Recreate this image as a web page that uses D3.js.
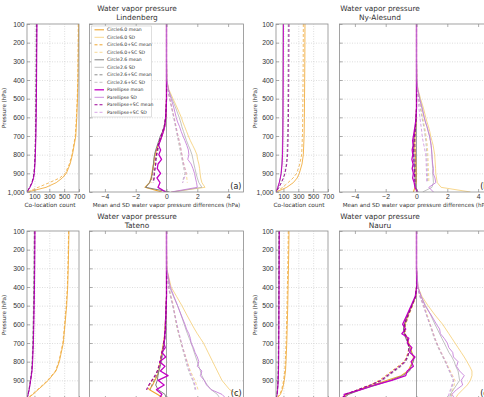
<!DOCTYPE html>
<html>
<head>
<meta charset="utf-8">
<script src="https://cdn.jsdelivr.net/npm/d3@7"></script>
<style>
  body { margin: 0; background: #fff; }
  svg { font-family: 'DejaVu Sans', sans-serif; display: block; }
  .tick text { fill: #333; font-size: 6.8px; }
  .tick line { stroke: #777; stroke-width: 0.6; }
  .grid line { stroke: #c8c8c8; stroke-width: 0.6; stroke-dasharray: 1,1.5; }
  .grid .domain, .axis .domain { display: none; }
</style>
</head>
<body>
<div id="chart"></div>
<script>
// pressure levels (hPa) of the difference profiles and of the count profiles
const diffLevels = [100, 200, 300, 400, 450, 500, 550, 600, 625, 650, 675, 700, 725, 750, 775, 800, 825, 850, 875, 900, 925, 950, 975, 1000]
const countLevels = [100, 200, 300, 400, 500, 600, 700, 800, 850, 900, 925, 950, 975, 1000]

const yTicks = [100, 200, 300, 400, 500, 600, 700, 800, 900, 1000]
const countTicks = [100, 300, 500, 700]
const diffTicks = [-4, -2, 0, 2, 4]

const stations = ['Lindenberg', 'Ny-Alesund', 'Tateno', 'Nauru']
const panelLabels = ['(a)', '(b)', '(c)', '(d)']
const seriesNames = ['Circle6.0 mean', 'Circle6.0 SD', 'Circle6.0+SC mean', 'Circle6.0+SC SD',
  'Circle2.6 mean', 'Circle2.6 SD', 'Circle2.6+SC mean', 'Circle2.6+SC SD',
  'Parellipse mean', 'Parellipse SD', 'Parellipse+SC mean', 'Parellipse+SC SD']

// Lindenberg
const lindCntC60 = [695, 693, 690, 687, 680, 670, 657, 612, 580, 530, 475, 393, 256, 10]
const lindCntC60sc = [690, 688, 686, 683, 676, 665, 650, 605, 570, 515, 440, 300, 150, 5]
const lindCntC26 = [128, 127, 126, 124, 122, 120, 117, 111, 106, 97, 86, 68, 38, 0]
const lindCntC26sc = [124, 123, 122, 120, 118, 116, 113, 107, 102, 93, 82, 64, 35, 0]
const lindCntPar = [135, 133, 131, 129, 127, 124, 120, 113, 107, 98, 88, 70, 40, 0]
const lindCntParsc = [131, 129, 127, 125, 123, 120, 116, 109, 103, 94, 84, 66, 36, 0]

const lindC60Mean = [0, 0, 0, 0, 0, 0, -0.02, -0.05, -0.08, -0.12, -0.2, -0.3, -0.42, -0.55, -0.65, -0.75, -0.8, -0.85, -0.9, -0.95, -1.0, -1.1, -1.4, -0.3]
const lindC60Sd = [0, 0, 0, 0.02, 0.15, 0.42, 0.7, 0.96, 1.06, 1.18, 1.3, 1.42, 1.55, 1.7, 1.85, 1.97, 2.02, 2.1, 2.15, 2.18, 2.22, 2.3, 2.5, 0.3]
const lindC60scMean = [0, 0, 0, 0, 0, 0, -0.02, -0.05, -0.1, -0.15, -0.25, -0.35, -0.45, -0.55, -0.6, -0.7, -0.75, -0.8, -0.85, -0.9, -0.95, -1.0, null, null]
const lindC60scSd = [0, 0, 0, 0.01, 0.1, 0.22, 0.36, 0.5, 0.56, 0.62, 0.68, 0.75, 0.82, 0.88, 0.94, 1.0, 1.06, 1.12, 1.2, 1.28, 1.32, 1.35, null, null]
const lindC26Mean = [0, 0, 0, 0, 0, 0, -0.02, -0.06, -0.1, -0.16, -0.25, -0.4, -0.5, -0.6, -0.7, -0.78, -0.82, -0.84, -0.88, -0.92, -0.98, -1.1, -1.35, 0.2]
const lindC26Sd = [0, 0, 0, 0.02, 0.12, 0.35, 0.6, 0.82, 0.92, 1.0, 1.1, 1.2, 1.3, 1.42, 1.55, 1.65, 1.72, 1.78, 1.85, 1.92, 2.0, 2.1, 2.3, 0.4]
const lindC26scMean = [0, 0, 0, 0, 0, 0, -0.02, -0.05, -0.08, -0.12, -0.2, -0.3, -0.4, -0.5, -0.55, -0.62, -0.66, -0.7, -0.74, -0.78, -0.82, -0.9, null, null]
const lindC26scSd = [0, 0, 0, 0.01, 0.09, 0.2, 0.33, 0.46, 0.52, 0.58, 0.64, 0.7, 0.76, 0.82, 0.88, 0.94, 1.0, 1.06, 1.12, 1.2, 1.1, 1.05, null, null]
const lindParMean = [0, 0, 0, 0, 0, 0, -0.02, -0.05, -0.08, -0.12, -0.2, -0.3, -0.4, -0.52, -0.38, -0.5, -0.32, -0.55, -0.6, -0.38, -0.62, -0.42, -0.55, -0.05]
const lindParSd = [0, 0, 0, 0.02, 0.12, 0.3, 0.48, 0.63, 0.72, 0.85, 0.95, 1.07, 1.2, 1.32, 1.42, 1.45, 1.38, 1.6, 1.72, 1.82, 1.88, 1.95, 2.0, 0.3]
const lindParscMean = [0, 0, 0, 0, 0, 0, -0.02, -0.05, -0.1, -0.15, -0.25, -0.35, -0.45, -0.55, -0.6, -0.65, -0.7, -0.7, -0.75, -0.8, -0.8, -0.85, null, null]
const lindParscSd = [0, 0, 0, 0.01, 0.08, 0.2, 0.35, 0.48, 0.55, 0.62, 0.68, 0.75, 0.82, 0.9, 0.95, 1.0, 1.05, 1.12, 1.2, 1.28, 1.15, 1.05, null, null]

// Ny-Alesund
const nyCntC60 = [390, 389, 388, 386, 384, 382, 378, 368, 350, 314, 285, 233, 144, 5]
const nyCntC60sc = [368, 367, 366, 364, 362, 360, 356, 345, 320, 278, 230, 162, 90, 0]
const nyCntC26 = [95, 94, 93, 92, 91, 90, 88, 84, 78, 68, 58, 45, 25, 0]
const nyCntC26sc = [165, 164, 163, 162, 160, 158, 155, 148, 138, 118, 98, 72, 40, 0]
const nyCntPar = [100, 99, 98, 97, 96, 95, 93, 88, 82, 70, 58, 44, 24, 0]
const nyCntParsc = [175, 174, 173, 172, 170, 168, 164, 156, 145, 122, 100, 72, 40, 0]

const nyC60Mean = [0, 0, 0, 0, 0, 0, 0, -0.02, -0.03, -0.05, -0.08, -0.1, -0.1, -0.12, -0.1, -0.08, -0.06, -0.05, -0.05, -0.04, -0.05, -0.03, -0.1, -0.2]
const nyC60Sd = [0, 0, 0, 0.02, 0.1, 0.26, 0.45, 0.6, 0.68, 0.78, 0.86, 0.92, 1.0, 1.08, 1.13, 1.18, 1.2, 1.22, 1.24, 1.25, 1.3, 1.35, 1.6, 3.5]
const nyC60scMean = [0, 0, 0, 0, 0, 0, 0, -0.02, -0.04, -0.06, -0.08, -0.1, -0.12, -0.1, -0.08, -0.06, -0.05, -0.05, -0.04, -0.03, -0.02, 0, null, null]
const nyC60scSd = [0, 0, 0, 0.01, 0.06, 0.16, 0.28, 0.4, 0.46, 0.52, 0.58, 0.62, 0.66, 0.7, 0.72, 0.74, 0.75, 0.76, 0.77, 0.78, 0.8, 0.8, null, null]
const nyC26Mean = [0, 0, 0, 0, 0, 0, 0, -0.03, -0.05, -0.08, -0.12, -0.15, -0.18, -0.2, -0.2, -0.18, -0.16, -0.15, -0.14, -0.13, -0.1, -0.08, -0.05, 0.1]
const nyC26Sd = [0, 0, 0, 0.02, 0.08, 0.22, 0.38, 0.5, 0.58, 0.68, 0.76, 0.84, 0.9, 0.95, 0.98, 1.0, 1.02, 1.03, 1.05, 1.05, 1.08, 1.1, 1.0, 0.4]
const nyC26scMean = [0, 0, 0, 0, 0, 0, 0, -0.02, -0.03, -0.05, -0.07, -0.09, -0.1, -0.1, -0.1, -0.09, -0.08, -0.07, -0.06, -0.05, -0.04, -0.03, null, null]
const nyC26scSd = [0, 0, 0, 0.01, 0.05, 0.14, 0.25, 0.35, 0.41, 0.47, 0.52, 0.56, 0.6, 0.63, 0.65, 0.67, 0.68, 0.69, 0.7, 0.7, 0.72, 0.72, null, null]
const nyParMean = [0, 0, 0, 0, 0, 0, 0, -0.03, -0.06, -0.1, -0.15, -0.2, -0.25, -0.22, -0.28, -0.24, -0.3, -0.22, -0.28, -0.2, -0.25, -0.15, -0.1, 0.05]
const nyParSd = [0, 0, 0, 0.02, 0.08, 0.2, 0.35, 0.5, 0.58, 0.68, 0.76, 0.85, 0.9, 0.95, 0.98, 1.0, 1.02, 1.05, 1.1, 1.08, 1.2, 1.25, 0.8, 1.1]
const nyParscMean = [0, 0, 0, 0, 0, 0, 0, -0.02, -0.04, -0.07, -0.1, -0.13, -0.15, -0.17, -0.18, -0.18, -0.17, -0.16, -0.15, -0.13, -0.12, -0.1, null, null]
const nyParscSd = [0, 0, 0, 0.01, 0.04, 0.1, 0.16, 0.22, 0.26, 0.3, 0.34, 0.37, 0.42, 0.48, 0.54, 0.6, 0.62, 0.63, 0.64, 0.65, 0.66, 0.66, null, null]

// Tateno
const tatCntC60 = [565, 560, 555, 548, 534, 512, 489, 435, 390, 287, 220, 150, 80, 0]
const tatCntC60sc = [560, 555, 550, 543, 528, 506, 482, 428, 382, 278, 210, 140, 70, 0]
const tatCntC26 = [100, 98, 96, 93, 89, 85, 80, 71, 63, 47, 38, 28, 14, 0]
const tatCntC26sc = [98, 96, 94, 91, 87, 83, 78, 69, 61, 45, 36, 26, 13, 0]
const tatCntPar = [108, 106, 104, 101, 97, 92, 86, 76, 68, 50, 40, 30, 15, 0]
const tatCntParsc = [105, 103, 101, 98, 94, 89, 83, 73, 65, 48, 38, 28, 14, 0]

const tatC60Mean = [0, 0, 0, 0, 0, -0.02, -0.05, -0.08, -0.1, -0.12, -0.15, -0.2, -0.25, -0.3, -0.35, -0.4, -0.45, -0.5, -0.6, -0.75, -0.9, -1.1, -0.6, -0.1]
const tatC60Sd = [0, 0, 0.02, 0.3, 0.65, 1.0, 1.32, 1.65, 1.82, 2.0, 2.2, 2.4, 2.55, 2.7, 2.85, 3.0, 3.15, 3.3, 3.45, 3.6, 3.85, 4.1, 4.6, 4.8]
const tatC60scMean = [0, 0, 0, 0, 0, -0.02, -0.04, -0.06, -0.08, -0.1, -0.12, -0.15, -0.2, -0.3, -0.35, -0.4, -0.5, -0.6, -0.7, -0.9, -1.1, -1.2, null, null]
const tatC60scSd = [0, 0, 0.01, 0.15, 0.3, 0.45, 0.55, 0.65, 0.72, 0.8, 0.88, 0.95, 1.05, 1.15, 1.25, 1.35, 1.45, 1.55, 1.7, 1.85, 1.95, 2.05, null, null]
const tatC26Mean = [0, 0, 0, 0, 0, -0.02, -0.04, -0.06, -0.08, -0.1, -0.12, -0.15, -0.2, -0.25, -0.3, -0.35, -0.4, -0.5, -0.55, -0.6, -0.7, -0.55, -0.1, 0]
const tatC26Sd = [0, 0, 0.01, 0.2, 0.45, 0.72, 0.95, 1.15, 1.25, 1.36, 1.48, 1.6, 1.7, 1.8, 1.9, 2.0, 2.1, 2.2, 2.3, 2.45, 2.65, 2.9, 3.3, 3.5]
const tatC26scMean = [0, 0, 0, 0, 0, -0.02, -0.04, -0.06, -0.08, -0.1, -0.12, -0.15, -0.2, -0.25, -0.3, -0.35, -0.45, -0.55, -0.65, -0.8, -0.95, -1.05, null, null]
const tatC26scSd = [0, 0, 0.01, 0.12, 0.25, 0.4, 0.52, 0.64, 0.7, 0.78, 0.86, 0.94, 1.02, 1.1, 1.18, 1.26, 1.34, 1.44, 1.56, 1.7, 1.8, 1.85, null, null]
const tatParMean = [0, 0, 0, 0, 0, -0.02, -0.04, -0.08, -0.05, -0.12, -0.1, -0.18, -0.08, -0.3, -0.05, -0.45, -0.1, -0.4, 0.1, -0.55, -0.15, -0.65, -0.3, -0.5]
const tatParSd = [0, 0, 0.01, 0.25, 0.48, 0.72, 0.95, 1.2, 1.3, 1.45, 1.55, 1.6, 1.75, 1.85, 2.0, 2.1, 2.0, 2.3, 2.2, 2.45, 2.6, 2.9, 3.6, 3.9]
const tatParscMean = [0, 0, 0, 0, 0, -0.02, -0.04, -0.06, -0.08, -0.1, -0.14, -0.18, -0.22, -0.3, -0.36, -0.42, -0.5, -0.6, -0.75, -0.95, -1.15, -1.3, null, null]
const tatParscSd = [0, 0, 0.01, 0.14, 0.28, 0.42, 0.55, 0.68, 0.75, 0.82, 0.9, 0.98, 1.06, 1.15, 1.24, 1.32, 1.4, 1.5, 1.62, 1.75, 1.85, 1.9, null, null]

// Nauru
const nauCntC60 = [175, 172, 168, 163, 158, 152, 145, 135, 128, 112, 100, 85, 60, 0]
const nauCntC60sc = [165, 162, 158, 153, 148, 142, 135, 125, 118, 102, 90, 75, 52, 0]
const nauCntC26 = [40, 39, 38, 37, 36, 35, 34, 32, 30, 27, 24, 20, 13, 0]
const nauCntC26sc = [38, 37, 36, 35, 34, 33, 32, 30, 28, 25, 22, 18, 12, 0]
const nauCntPar = [45, 44, 43, 42, 41, 40, 38, 36, 34, 30, 27, 22, 15, 0]
const nauCntParsc = [43, 42, 41, 40, 39, 38, 36, 34, 32, 28, 25, 20, 14, 0]

const nauC60Mean = [0, 0, 0, 0, -0.05, -0.3, -0.55, -0.75, -0.8, -0.78, -0.6, -0.5, -0.4, -0.3, -0.2, -0.25, -0.4, -0.55, -1.0, -1.9, -2.8, -3.7, -4.5, -4.9]
const nauC60Sd = [0, 0, 0, 0.1, 0.35, 0.75, 1.2, 1.7, 1.9, 2.1, 2.3, 2.5, 2.7, 2.9, 3.1, 3.28, 3.45, 3.6, 3.6, 3.5, 3.3, 3.0, 2.7, 2.5]
const nauC60scMean = [0, 0, 0, 0, -0.05, -0.25, -0.5, -0.7, -0.75, -0.72, -0.6, -0.55, -0.5, -0.55, -0.65, -0.8, -1.2, -1.6, -2.0, -2.4, -3.0, -3.8, -4.6, -4.9]
const nauC60scSd = [0, 0, 0, 0.05, 0.25, 0.5, 0.7, 0.9, 1.0, 1.1, 1.2, 1.32, 1.45, 1.6, 1.75, 1.9, 2.05, 2.2, 2.35, 2.5, 2.45, 2.35, 2.3, 2.2]
const nauC26Mean = [0, 0, 0, 0, -0.05, -0.32, -0.6, -0.8, -0.85, -0.8, -0.7, -0.55, -0.45, -0.35, -0.15, -0.2, -0.35, -0.45, -0.9, -1.7, -2.6, -3.6, -4.4, -4.8]
const nauC26Sd = [0, 0, 0, 0.08, 0.3, 0.6, 0.92, 1.2, 1.35, 1.5, 1.65, 1.8, 1.95, 2.1, 2.3, 2.45, 2.55, 2.7, 2.75, 2.8, 2.6, 2.4, 2.2, 2.3]
const nauC26scMean = [0, 0, 0, 0, -0.05, -0.28, -0.52, -0.72, -0.78, -0.75, -0.62, -0.55, -0.5, -0.5, -0.55, -0.7, -1.0, -1.4, -1.8, -2.2, -2.9, -3.7, -4.5, -4.85]
const nauC26scSd = [0, 0, 0, 0.05, 0.22, 0.45, 0.65, 0.85, 0.95, 1.05, 1.15, 1.28, 1.4, 1.55, 1.7, 1.85, 2.0, 2.12, 2.25, 2.4, 2.35, 2.25, 2.2, 2.1]
const nauParMean = [0, 0, 0, 0.02, -0.08, -0.35, -0.62, -0.9, -0.7, -0.95, -0.5, -0.6, -0.3, -0.45, -0.1, -0.35, -0.2, -0.6, -0.7, -1.6, -2.7, -3.6, -4.7, -4.6]
const nauParSd = [0, 0, 0, 0.1, 0.3, 0.55, 0.95, 1.3, 1.5, 1.55, 1.8, 2.0, 2.1, 2.35, 2.4, 2.7, 2.6, 2.8, 3.1, 2.9, 3.0, 2.6, 2.3, 2.5]
const nauParscMean = [0, 0, 0, 0, -0.06, -0.3, -0.55, -0.78, -0.8, -0.75, -0.62, -0.55, -0.5, -0.5, -0.6, -0.75, -1.1, -1.5, -1.9, -2.3, -3.0, -3.8, -4.6, -4.9]
const nauParscSd = [0, 0, 0, 0.06, 0.22, 0.45, 0.65, 0.88, 1.0, 1.1, 1.2, 1.32, 1.45, 1.6, 1.75, 1.9, 2.0, 2.15, 2.3, 2.4, 2.3, 2.2, 2.1, 2.0]

const counts = [
  [lindCntC60, lindCntC60sc, lindCntC26, lindCntC26sc, lindCntPar, lindCntParsc],
  [nyCntC60, nyCntC60sc, nyCntC26, nyCntC26sc, nyCntPar, nyCntParsc],
  [tatCntC60, tatCntC60sc, tatCntC26, tatCntC26sc, tatCntPar, tatCntParsc],
  [nauCntC60, nauCntC60sc, nauCntC26, nauCntC26sc, nauCntPar, nauCntParsc]
]
const diffs = [
  [lindC60Mean, lindC60Sd, lindC60scMean, lindC60scSd, lindC26Mean, lindC26Sd, lindC26scMean, lindC26scSd, lindParMean, lindParSd, lindParscMean, lindParscSd],
  [nyC60Mean, nyC60Sd, nyC60scMean, nyC60scSd, nyC26Mean, nyC26Sd, nyC26scMean, nyC26scSd, nyParMean, nyParSd, nyParscMean, nyParscSd],
  [tatC60Mean, tatC60Sd, tatC60scMean, tatC60scSd, tatC26Mean, tatC26Sd, tatC26scMean, tatC26scSd, tatParMean, tatParSd, tatParscMean, tatParscSd],
  [nauC60Mean, nauC60Sd, nauC60scMean, nauC60scSd, nauC26Mean, nauC26Sd, nauC26scMean, nauC26scSd, nauParMean, nauParSd, nauParscMean, nauParscSd]
]

// line styles, same order as seriesNames
const lineStyles = [
  { color: '#efa630', width: 1.1, dash: null },
  { color: '#f4c968', width: 0.75, dash: null },
  { color: '#efa630', width: 1.0, dash: '3,2' },
  { color: '#f4c968', width: 0.7, dash: '3,2' },
  { color: '#808080', width: 1.0, dash: null },
  { color: '#a8a8a8', width: 0.7, dash: null },
  { color: '#808080', width: 0.9, dash: '3,2' },
  { color: '#ababab', width: 0.7, dash: '3,2' },
  { color: '#c400c4', width: 1.3, dash: null },
  { color: '#c47ad8', width: 0.85, dash: null },
  { color: '#9c0098', width: 1.1, dash: '3,2' },
  { color: '#c884dc', width: 0.75, dash: '3,2' }
]
// each count profile uses the colour and dash of its method's mean line
const countStyle = [0, 2, 4, 6, 8, 10]

const cols = [
  { cx0: 27, cx1: 79, dx0: 89.5, dx1: 243.5, title: 137, ylab: 5.5 },
  { cx0: 276, cx1: 328, dx0: 339.5, dx1: 493.5, title: 380, ylab: 257 }
]
const rows = [
  { y0: 24, y1: 192, t1: 11, t2: 19.5 },
  { y0: 231, y1: 399, t1: 219, t2: 227.5 }
]

const svg = d3.select('#chart').append('svg')
  .attr('width', 484)
  .attr('height', 397)

function frame(g, x0, x1, y0, y1) {
  g.append('rect')
    .attr('x', x0).attr('y', y0)
    .attr('width', x1 - x0).attr('height', y1 - y0)
    .attr('fill', 'none')
    .attr('stroke', '#8c8c8c')
    .attr('stroke-width', 0.8)
}

function drawLines(g, data, levels, x, y, styleIdx, clipId, widthScale) {
  const line = d3.line()
    .defined(d => d[0] !== null)
    .x(d => x(d[0]))
    .y(d => y(d[1]))
  data.forEach((vals, i) => {
    const st = lineStyles[styleIdx[i]]
    g.append('path')
      .datum(vals.map((v, j) => [v, levels[j]]))
      .attr('clip-path', `url(#${clipId})`)
      .attr('d', line)
      .attr('fill', 'none')
      .attr('stroke', st.color)
      .attr('stroke-width', st.width * widthScale)
      .attr('stroke-dasharray', st.dash)
      .attr('stroke-linejoin', 'round')
  })
}

stations.forEach((station, k) => {
  const col = cols[k % 2]
  const row = rows[Math.floor(k / 2)]
  const g = svg.append('g')

  const y = d3.scaleLinear().domain([100, 1000]).range([row.y0, row.y1])
  const xCount = d3.scaleLinear().domain([0, 700]).range([col.cx0, col.cx1])
  const xDiff = d3.scaleLinear().domain([-5, 5]).range([col.dx0, col.dx1])

  // clip paths
  const defs = g.append('defs')
  defs.append('clipPath').attr('id', 'cc' + k).append('rect')
    .attr('x', col.cx0).attr('y', row.y0)
    .attr('width', col.cx1 - col.cx0).attr('height', row.y1 - row.y0)
  defs.append('clipPath').attr('id', 'dc' + k).append('rect')
    .attr('x', col.dx0).attr('y', row.y0)
    .attr('width', col.dx1 - col.dx0).attr('height', row.y1 - row.y0)

  // grids
  g.append('g').attr('class', 'grid')
    .attr('transform', `translate(${col.cx0},0)`)
    .call(d3.axisLeft(y).tickValues(yTicks.slice(1, -1)).tickSize(-(col.cx1 - col.cx0)).tickFormat(''))
  g.append('g').attr('class', 'grid')
    .attr('transform', `translate(0,${row.y1})`)
    .call(d3.axisBottom(xCount).tickValues(countTicks.slice(0, -1)).tickSize(-(row.y1 - row.y0)).tickFormat(''))
  g.append('g').attr('class', 'grid')
    .attr('transform', `translate(${col.dx0},0)`)
    .call(d3.axisLeft(y).tickValues(yTicks.slice(1, -1)).tickSize(-(col.dx1 - col.dx0)).tickFormat(''))

  // zero line
  g.append('line')
    .attr('x1', xDiff(0)).attr('x2', xDiff(0))
    .attr('y1', row.y0).attr('y2', row.y1)
    .attr('stroke', '#8a8a8a')
    .attr('stroke-width', 0.8)

  drawLines(g, counts[k], countLevels, xCount, y, countStyle, 'cc' + k, 0.75)
  drawLines(g, diffs[k], diffLevels, xDiff, y, d3.range(12), 'dc' + k, 1)

  // axes
  g.append('g').attr('class', 'axis')
    .attr('transform', `translate(${col.cx0},0)`)
    .call(d3.axisLeft(y).tickValues(yTicks).tickSize(-3).tickPadding(2.5))
  g.append('g').attr('class', 'axis')
    .attr('transform', `translate(${col.dx0},0)`)
    .call(d3.axisLeft(y).tickValues(yTicks).tickSize(-3).tickFormat(''))
  g.append('g').attr('class', 'axis')
    .attr('transform', `translate(0,${row.y1})`)
    .call(d3.axisBottom(xCount).tickValues(countTicks).tickSize(-3).tickPadding(2.5))
  g.append('g').attr('class', 'axis')
    .attr('transform', `translate(0,${row.y1})`)
    .call(d3.axisBottom(xDiff).tickValues(diffTicks).tickSize(-3).tickPadding(2.5).tickFormat(d3.format('d')))
  g.append('g').attr('class', 'axis')
    .attr('transform', `translate(0,${row.y0})`)
    .call(d3.axisTop(xDiff).tickValues(diffTicks).tickSize(-3).tickFormat(''))

  frame(g, col.cx0, col.cx1, row.y0, row.y1)
  frame(g, col.dx0, col.dx1, row.y0, row.y1)

  // texts
  g.append('text')
    .attr('x', col.title).attr('y', row.t1)
    .attr('text-anchor', 'middle')
    .attr('font-size', 7.4)
    .attr('fill', '#333')
    .text('Water vapor pressure')
  g.append('text')
    .attr('x', col.title).attr('y', row.t2)
    .attr('text-anchor', 'middle')
    .attr('font-size', 7.4)
    .attr('fill', '#333')
    .text(station)
  g.append('text')
    .attr('transform', `translate(${col.ylab},${(row.y0 + row.y1) / 2}) rotate(-90)`)
    .attr('text-anchor', 'middle')
    .attr('font-size', 5.6)
    .attr('fill', '#333')
    .text('Pressure (hPa)')
  g.append('text')
    .attr('x', (col.cx0 + col.cx1) / 2 - 3).attr('y', row.y1 + 14.5)
    .attr('text-anchor', 'middle')
    .attr('font-size', 5.8)
    .attr('fill', '#333')
    .text('Co-location count')
  g.append('text')
    .attr('x', (col.dx0 + col.dx1) / 2).attr('y', row.y1 + 14.5)
    .attr('text-anchor', 'middle')
    .attr('font-size', 5.6)
    .attr('fill', '#333')
    .text('Mean and SD water vapor pressure differences (hPa)')
  g.append('text')
    .attr('x', col.dx1 - 2).attr('y', row.y1 - 3)
    .attr('text-anchor', 'end')
    .attr('font-size', 8)
    .attr('fill', '#222')
    .text(panelLabels[k])
})

// legend in panel (a)
const legend = svg.append('g').attr('transform', 'translate(91.5,26)')
legend.append('rect')
  .attr('width', 60).attr('height', 91)
  .attr('fill', '#fff')
  .attr('stroke', '#c8c8c8')
  .attr('stroke-width', 0.6)

legend.selectAll('.legend-entry')
  .data(seriesNames)
  .enter()
  .append('g')
  .attr('class', 'legend-entry')
  .attr('transform', (d, i) => `translate(0,${3.8 + i * 7.5})`)
  .each(function(d, i) {
    const e = d3.select(this)
    const st = lineStyles[i]
    e.append('line')
      .attr('x1', 3).attr('x2', 12.5)
      .attr('y1', 0).attr('y2', 0)
      .attr('stroke', st.color)
      .attr('stroke-width', st.width)
      .attr('stroke-dasharray', st.dash)
    e.append('text')
      .attr('x', 15.5).attr('y', 0)
      .attr('dy', '0.35em')
      .attr('font-size', 4.6)
      .attr('fill', '#333')
      .text(d)
  })
</script>
</body>
</html>
